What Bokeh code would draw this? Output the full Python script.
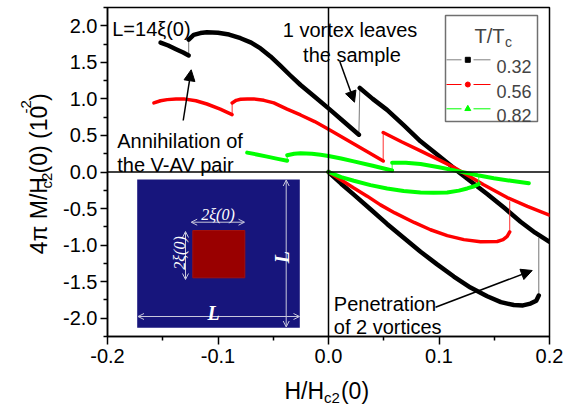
from math import pi
from bokeh.plotting import figure
from bokeh.layouts import row, column
from bokeh.models import (Range1d, FixedTicker, PrintfTickFormatter, Span, Label,
                          Arrow, NormalHead, OpenHead)
from bokeh.core.properties import value
from bokeh.embed import file_html
from bokeh.resources import INLINE

# ---------------- data ----------------
temps = ["0.32", "0.56", "0.82"]
colors = ["#000000", "#ff0000", "#00ff00"]
jump_colors = ["#777777", "#ff3030", "#30ff30"]
widths = [4.5, 3.5, 4.0]
markers = ["square", "circle", "triangle"]

black_x1 = [-0.152, -0.145, -0.138, -0.1315, -0.1265]
black_y1 = [1.77, 1.73, 1.68, 1.635, 1.595]
black_x2 = [-0.1265, -0.122, -0.116, -0.110, -0.100, -0.090, -0.0796, -0.070, -0.0615,
            -0.0525, -0.0434, -0.0345, -0.0253, -0.0125, 0.0, 0.0137, 0.0275]
black_y2 = [1.81, 1.875, 1.90, 1.91, 1.905, 1.88, 1.83, 1.77, 1.69,
            1.58, 1.45, 1.32, 1.19, 1.03, 0.87, 0.69, 0.51]
black_x3 = [0.0283, 0.040, 0.053, 0.068, 0.0833, 0.100, 0.1195, 0.1315, 0.1436,
            0.159, 0.1738, 0.187, 0.2]
black_y3 = [1.15, 1.00, 0.85, 0.64, 0.42, 0.22, -0.02, -0.16, -0.30,
            -0.49, -0.68, -0.83, -0.955]
black_low_x = [0.0, 0.0115, 0.0229, 0.038, 0.053, 0.068, 0.0833, 0.098, 0.1134,
               0.1285, 0.1436, 0.156, 0.1677, 0.176, 0.1828, 0.188, 0.1903]
black_low_y = [0.0, -0.16, -0.31, -0.51, -0.71, -0.90, -1.09, -1.26, -1.43,
               -1.58, -1.70, -1.78, -1.82, -1.825, -1.80, -1.76, -1.69]
black_low_jump = -0.90

red_x1 = [-0.158, -0.152, -0.146, -0.138, -0.131, -0.120, -0.110, -0.098, -0.0872]
red_y1 = [0.945, 0.975, 0.99, 1.0, 1.0, 0.975, 0.93, 0.86, 0.785]
red_x2 = [-0.0872, -0.0835, -0.0796, -0.0735, -0.0676, -0.0585, -0.0495, -0.0375,
          -0.0253, -0.0125, 0.0, 0.0125, 0.025, 0.0375, 0.0495]
red_y2 = [0.945, 0.98, 0.995, 1.0, 1.0, 0.98, 0.945, 0.86,
          0.78, 0.69, 0.585, 0.475, 0.365, 0.255, 0.15]
red_x3 = [0.0495, 0.0665, 0.0833, 0.100, 0.1134, 0.1255, 0.140, 0.1617, 0.180, 0.2]
red_y3 = [0.54, 0.41, 0.29, 0.165, 0.065, -0.04, -0.17, -0.35, -0.47, -0.59]
red_low_x = [0.0, 0.0115, 0.0229, 0.035, 0.047, 0.060, 0.0775, 0.0923, 0.1075,
             0.1225, 0.1376, 0.1527, 0.158, 0.1617, 0.164]
red_low_y = [0.0, -0.11, -0.22, -0.33, -0.45, -0.56, -0.69, -0.79, -0.87,
             -0.925, -0.955, -0.95, -0.925, -0.88, -0.82]
red_low_jump = -0.40

green_x1 = [-0.0736, -0.065, -0.0555, -0.046, -0.0374]
green_y1 = [0.265, 0.24, 0.21, 0.18, 0.155]
green_x2 = [-0.0374, -0.031, -0.0253, -0.015, -0.0072, 0.0, 0.0115, 0.0229, 0.040, 0.0576]
green_y2 = [0.23, 0.25, 0.255, 0.25, 0.235, 0.22, 0.185, 0.145, 0.085, 0.02]
green_x3 = [0.0576, 0.070, 0.0833, 0.100, 0.1195, 0.135, 0.1496, 0.165, 0.1813]
green_y3 = [0.128, 0.125, 0.11, 0.065, 0.005, -0.045, -0.085, -0.12, -0.155]
green_low_x = [0.0, 0.0115, 0.0229, 0.038, 0.053, 0.068, 0.0833, 0.095, 0.1074,
               0.118, 0.1255, 0.132, 0.136]
green_low_y = [0.0, -0.07, -0.12, -0.18, -0.225, -0.26, -0.28, -0.285, -0.28,
               -0.255, -0.225, -0.195, -0.165]
green_low_jump = -0.05

x_ticks = [-0.2, -0.1, 0.0, 0.1, 0.2]
x_minor = [-0.15, -0.05, 0.05, 0.15]
y_ticks = [-2.0, -1.5, -1.0, -0.5, 0.0, 0.5, 1.0, 1.5, 2.0]
y_minor = [-2.25, -1.75, -1.25, -0.75, -0.25, 0.25, 0.75, 1.25, 1.75, 2.25]

curves = [
    ([black_x1, black_x2, black_x3], [black_y1, black_y2, black_y3], black_low_x, black_low_y, black_low_jump),
    ([red_x1, red_x2, red_x3], [red_y1, red_y2, red_y3], red_low_x, red_low_y, red_low_jump),
    ([green_x1, green_x2, green_x3], [green_y1, green_y2, green_y3], green_low_x, green_low_y, green_low_jump),
]

# ---------------- layout helpers (page pixel -> data of main plot) ----------------
LEFT_W = 60          # width of the strip holding the rotated y title
BOTTOM_H = 35        # height of the strip holding the x title
X0, X1, Y0, Y1 = 107.0, 549.0, 7.0, 336.0   # frame edges in page pixels


def X(px):
    return -0.2 + (px - X0) / (X1 - X0) * 0.4


def Y(py):
    return 2.25 - (py - Y0) / (Y1 - Y0) * 4.5


FONT = "Liberation Sans"
MAIN_H = 407 - BOTTOM_H

p = figure(width=564 - LEFT_W, height=MAIN_H, output_backend="svg", toolbar_location=None,
           title=None,
           x_range=Range1d(-0.2, 0.2), y_range=Range1d(-2.25, 2.25),
           min_border_left=int(X0) - LEFT_W, min_border_right=564 - int(X1),
           min_border_top=int(Y0), min_border_bottom=MAIN_H - int(Y1))
p.grid.visible = False
p.outline_line_color = "black"
p.outline_line_width = 1.5
p.background_fill_color = "white"
p.border_fill_color = "white"

for ax, tk, mn in ((p.xaxis, x_ticks, x_minor), (p.yaxis, y_ticks, y_minor)):
    ax.ticker = FixedTicker(ticks=tk, minor_ticks=mn)
    ax.formatter = PrintfTickFormatter(format="%.1f")
    ax.major_label_text_font = FONT
    ax.major_label_text_font_size = "20px"
    ax.major_label_text_color = "black"
    ax.axis_line_width = 1.5
    ax.axis_line_color = "black"
    ax.major_tick_line_width = 1.5
    ax.minor_tick_line_width = 1.5
    ax.major_tick_line_color = "black"
    ax.minor_tick_line_color = "black"
    ax.major_tick_in = 0
    ax.minor_tick_in = 0
    ax.minor_tick_out = 4
p.xaxis.major_tick_out = 8
p.yaxis.major_tick_out = 7
p.xaxis.major_label_standoff = 4
p.yaxis.major_label_standoff = 3

p.add_layout(Span(location=0, dimension="height", line_color="black", line_width=1.5))
p.add_layout(Span(location=0, dimension="width", line_color="black", line_width=1.5))

# ---------------- curves ----------------
for (segx, segy, lx, ly_, jump), col, jcol, w in zip(curves, colors, jump_colors, widths):
    allx = [v for s in segx for v in s]
    ally = [v for s in segy for v in s]
    p.line(allx, ally, line_color=jcol, line_width=1)
    p.line(lx + [lx[-1]], ly_ + [jump], line_color=jcol, line_width=1)
    for sx, sy in zip(segx, segy):
        p.line(sx, sy, line_color=col, line_width=w, line_join="round", line_cap="round")
    p.line(lx, ly_, line_color=col, line_width=w, line_join="round", line_cap="round")

# ---------------- inset ----------------
p.quad(left=X(136.7), right=X(299.3), top=Y(179), bottom=Y(327.3),
       fill_color="#17157c", line_color=None)
p.quad(left=X(192.3), right=X(244.3), top=Y(230), bottom=Y(277.3),
       fill_color="#990000", line_color="#a01010", line_width=1)
acol = "#c8c8dc"
for (xs, ys_, xe, ye) in [(190.7, 221.7, 244.0, 221.7), (185.0, 231.0, 185.0, 279.0),
                          (285.7, 179.5, 285.7, 326.5), (137.5, 316.0, 299.0, 316.0)]:
    p.add_layout(Arrow(x_start=X(xs), y_start=Y(ys_), x_end=X(xe), y_end=Y(ye),
                       line_color=acol, line_width=1,
                       start=OpenHead(size=6, line_color=acol, line_width=1),
                       end=OpenHead(size=6, line_color=acol, line_width=1)))
SERIF = "Liberation Serif"
p.add_layout(Label(x=X(217.5), y=Y(214), text="2ξ(0)", text_align="center",
                   text_baseline="alphabetic", text_font=SERIF, text_font_style="italic",
                   text_font_size="16px", text_color="white"))
p.add_layout(Label(x=X(179), y=Y(252.5), text="2ξ(0)", angle=pi / 2, text_align="center",
                   text_baseline="alphabetic", text_font=SERIF, text_font_style="italic",
                   text_font_size="16px", text_color="white"))
p.add_layout(Label(x=X(281), y=Y(256.7), text="L", angle=pi / 2, text_align="center",
                   text_baseline="alphabetic", text_font=SERIF, text_font_style="bold italic",
                   text_font_size="20px", text_color="white"))
p.add_layout(Label(x=X(213), y=Y(312.7), text="L", text_align="center",
                   text_baseline="alphabetic", text_font=SERIF, text_font_style="bold italic",
                   text_font_size="20px", text_color="white"))

# ---------------- legend (drawn by hand) ----------------
p.quad(left=X(445), right=X(537), top=Y(15), bottom=Y(121),
       fill_color="white", line_color="#707070", line_width=1.5)
p.add_layout(Label(x=X(474), y=Y(35), text="T/T", text_align="left", text_baseline="alphabetic",
                   text_font=FONT, text_font_size="20px"))
p.add_layout(Label(x=X(504.5), y=Y(41.5), text="c", text_align="left", text_baseline="alphabetic",
                   text_font=FONT, text_font_size="14px"))
row_py = [59.3, 84.0, 108.3]
for t, col, mk, ry in zip(temps, colors, markers, row_py):
    lc = "#808080" if col == "#000000" else col
    p.segment(x0=[X(446), X(473)], y0=[Y(ry), Y(ry)], x1=[X(461), X(490)], y1=[Y(ry), Y(ry)],
              line_color=lc, line_width=1)
    p.scatter([X(467.3)], [Y(ry)], marker=mk, size=6 if mk == "triangle" else 5,
              fill_color=col, line_color=col)
    p.add_layout(Label(x=X(496.0), y=Y(ry + 6.5), text=t, text_align="left",
                       text_baseline="alphabetic", text_font=FONT, text_font_size="18px"))

# ---------------- annotation texts ----------------
def txt(x, y, s, align="left", size="20px"):
    p.add_layout(Label(x=X(x), y=Y(y), text=s, text_align=align, text_baseline="alphabetic",
                       text_font=FONT, text_font_size=size, text_color="black"))


txt(111.7, 28.5, "L=14ξ(0)")
txt(349.5, 29.5, "1 vortex leaves", "center")
txt(351.5, 54.0, "the sample", "center")
txt(116.7, 140.0, "Annihilation of")
txt(116.7, 164.3, "the V-AV pair")
txt(333.3, 303.3, "Penetration")
txt(333.3, 326.7, "of 2 vortices")

for (xs, ys_, xe, ye) in [(339.3, 61.0, 354.0, 101.7), (182.7, 120.0, 190.7, 69.3),
                          (435.0, 306.7, 531.7, 270.0)]:
    p.add_layout(Arrow(x_start=X(xs), y_start=Y(ys_), x_end=X(xe), y_end=Y(ye),
                       line_color="black", line_width=1.5,
                       end=NormalHead(size=11, fill_color="black", line_color="black", line_width=1)))

# ---------------- axis titles with sub/superscripts (side strips in page pixels) ----------------
AW = {'0': .556, '1': .556, '2': .556, '4': .556, '.': .278, ' ': .278, '(': .333, ')': .333,
      '-': .333, '/': .278, 'H': .722, 'M': .833, 'c': .5, 'π': .57}


def tw(s, size):
    return sum(AW.get(ch, .556) for ch in s) * size


def strip(w, h, xr, yr):
    f = figure(width=w, height=h, output_backend="svg", toolbar_location=None, title=None,
               x_range=Range1d(*xr), y_range=Range1d(*yr), x_axis_type=None, y_axis_type=None,
               min_border=0, min_border_left=0, min_border_right=0,
               min_border_top=0, min_border_bottom=0)
    f.grid.visible = False
    f.outline_line_color = None
    f.background_fill_color = "white"
    f.border_fill_color = "white"
    return f


# left strip: x 0..LEFT_W, y = page pixels (downwards)
ystrip = strip(LEFT_W, MAIN_H, (0, LEFT_W), (MAIN_H, 0))
y_parts = [("4π M/H", 23, 38.5), ("c2", 15, 45.5), ("(0) (10", 23, 38.5), ("-2", 15, 25.5),
           (")", 23, 38.5)]
ystart = 279.0
for s, size, base in y_parts:
    ystrip.text(x=[base], y=[ystart], text=[s], angle=pi / 2, text_align="left",
                text_baseline="alphabetic", text_font=value(FONT),
                text_font_size=value(f"{size}px"), text_color="black")
    ystart -= tw(s, size) + (1.0 if size == 15 else 0.0)

# bottom strip: full width, x = page pixels, y = page pixels (downwards)
xstrip = strip(564, BOTTOM_H, (0, 564), (407, MAIN_H))
x_parts = [("H/H", 23, 390), ("c2", 15, 397), ("(0)", 23, 390)]
xstart = 284.0
for s, size, base in x_parts:
    xstrip.text(x=[xstart], y=[base], text=[s], text_align="left", text_baseline="alphabetic",
                text_font=value(FONT), text_font_size=value(f"{size}px"), text_color="black")
    xstart += tw(s, size) + (1.0 if size == 15 else 0.0)

layout = column(row(ystrip, p, spacing=0), xstrip, spacing=0)
open("out.html", "w").write(file_html(layout, INLINE))
